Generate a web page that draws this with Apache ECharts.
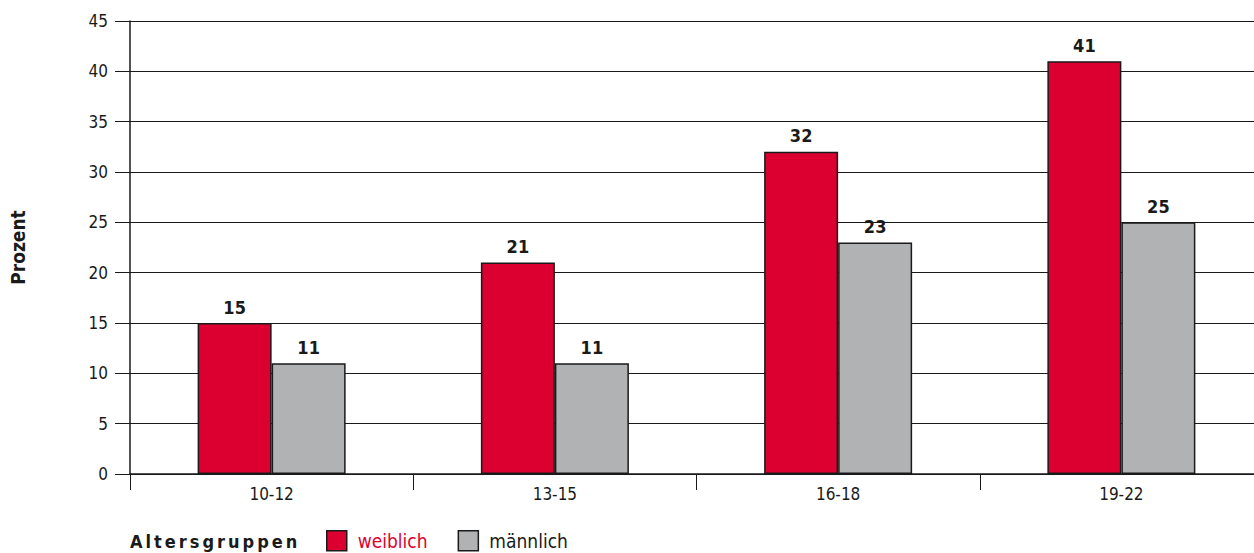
<!DOCTYPE html>
<html>
<head>
<meta charset="utf-8">
<script src="https://cdn.jsdelivr.net/npm/echarts@6/dist/echarts.min.js"></script>
<style>
  html, body { margin: 0; padding: 0; background: #fff; }
  #chart { width: 1254px; height: 553px; }
</style>
</head>
<body>
<div id="chart"></div>
<script>
// Altersgruppen on the category axis
const categories = ['10-12', '13-15', '16-18', '19-22'];
// Anteil in Prozent
const weiblich = [15, 21, 32, 41];
const maennlich = [11, 11, 23, 25];
const seriesNames = ['weiblich', 'männlich'];
const axisTitle = 'Prozent';
const legendTitle = 'Altersgruppen';

const RED = '#dc0030';
const GREY = '#b1b2b4';
const INK = '#1a1a1a';
const FONT = '"Liberation Sans Narrow", "DejaVu Sans Condensed", "Roboto", sans-serif';

const chart = echarts.init(document.getElementById('chart'), null, { renderer: 'svg' });

const barLabel = {
  show: true,
  position: 'top',
  distance: 7,
  color: INK,
  fontFamily: FONT,
  fontWeight: 'bold',
  fontSize: 18
};

chart.setOption({
  animation: false,
  backgroundColor: '#fff',
  textStyle: { fontFamily: FONT },
  // the last category runs a little past the right edge of the page
  grid: {
    left: 130, top: 21, bottom: 79, width: 1133,
    containLabel: false,
    outerBoundsMode: 'none'
  },
  legend: {
    left: 326,
    top: 530,
    padding: 0,
    itemWidth: 20,
    itemHeight: 20,
    itemGap: 30,
    selectedMode: false,
    icon: 'rect',
    itemStyle: { borderColor: INK, borderWidth: 1.5 },
    textStyle: { fontFamily: FONT, fontSize: 19, color: INK, padding: [0, 0, 0, 6] },
    data: [
      { name: seriesNames[0], textStyle: { color: RED } },
      { name: seriesNames[1], textStyle: { color: INK } }
    ]
  },
  graphic: [{
    type: 'text',
    id: 'legendTitle',
    left: 130,
    top: 532,
    silent: true,
    style: {
      text: legendTitle,
      fontFamily: FONT,
      fontWeight: 'bold',
      fontSize: 18,
      fill: INK
    }
  }],
  xAxis: {
    type: 'category',
    data: categories,
    boundaryGap: true,
    axisLine: { show: true, lineStyle: { color: INK, width: 1.5 } },
    axisTick: { show: true, length: 16, lineStyle: { color: INK, width: 1 } },
    axisLabel: { color: INK, fontSize: 17, fontFamily: FONT, margin: 11 },
    splitLine: { show: false }
  },
  yAxis: {
    type: 'value',
    min: 0,
    max: 45,
    interval: 5,
    name: axisTitle,
    nameLocation: 'middle',
    nameGap: 103,
    nameRotate: 90,
    nameTextStyle: { color: INK, fontFamily: FONT, fontWeight: 'bold', fontSize: 19 },
    axisLine: { show: true, lineStyle: { color: INK, width: 1.5 } },
    axisTick: { show: true, length: 15, lineStyle: { color: INK, width: 1 } },
    axisLabel: { color: INK, fontSize: 17, fontFamily: FONT, margin: 22 },
    splitLine: { show: true, lineStyle: { color: INK, width: 1 } }
  },
  series: [
    {
      name: seriesNames[0],
      type: 'bar',
      data: weiblich,
      barWidth: 74,
      barGap: '0%',
      itemStyle: { color: RED, borderColor: INK, borderWidth: 1.5 },
      label: barLabel,
      emphasis: { disabled: true }
    },
    {
      name: seriesNames[1],
      type: 'bar',
      data: maennlich,
      barWidth: 74,
      barGap: '0%',
      itemStyle: { color: GREY, borderColor: INK, borderWidth: 1.5 },
      label: barLabel,
      emphasis: { disabled: true }
    }
  ]
});

// spaced-out lettering for the legend heading
function spaceHeading() {
  document.querySelectorAll('#chart text').forEach(function (t) {
    if (t.textContent === legendTitle) t.setAttribute('letter-spacing', '3');
  });
}
spaceHeading();
chart.on('finished', spaceHeading);
</script>
</body>
</html>
